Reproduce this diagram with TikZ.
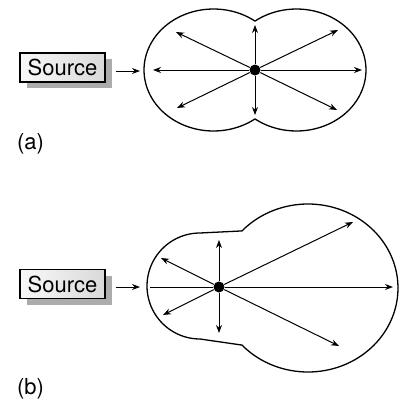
\documentclass[tikz,border=0pt]{standalone}
\usepackage{fontspec}
\setmainfont{TeX Gyre Heros}
\usetikzlibrary{positioning}
\usetikzlibrary{arrows.meta}
\usetikzlibrary{shadows}

\tikzset{
  srcbox/.style={draw, line width=0.9pt, left color=gray!5, right color=gray!30,
    minimum width=42.5pt, minimum height=14.5pt, inner sep=0pt,
    font=\fontsize{11}{13}\selectfont,
    drop shadow={shadow xshift=3.5pt, shadow yshift=-3pt, fill=gray!65, opacity=1}},
  ray/.style={-{Stealth[length=4pt,width=3pt]}, line width=0.5pt},
  lobe/.style={line width=0.65pt},
  dot/.style={circle, fill=black, inner sep=0pt, minimum size=5.5pt},
  tag/.style={font=\fontsize{11}{13}\selectfont}
}

\begin{document}
\begin{tikzpicture}[x=0.5pt, y=-0.5pt]
    \useasboundingbox (0,0) rectangle (406,408);

    % Part (a): symmetric pattern
    \node[srcbox] (srcA) at (62.5,67.5) {Source};
    \coordinate (inA) at (140,71);
    \draw[ray, shorten <=5pt] (srcA.east |- inA) -- (inA);

    \draw[lobe] plot[domain=53.4:306.6, samples=80] ({213.5+69.5*cos(\x)},{70+61*sin(\x)})
        -- plot[domain=233.4:486.6, samples=80] ({296.5+69.5*cos(\x)},{70+61*sin(\x)}) -- cycle;

    \node[dot] (cA) at (255,70) {};
    \coordinate (aW) at (153,70);
    \coordinate (aE) at (362,70);
    \coordinate (aN) at (255,25);
    \coordinate (aS) at (255,115);
    \coordinate (aNW) at (176,32);
    \coordinate (aNE) at (338,30);
    \coordinate (aSW) at (177,108);
    \coordinate (aSE) at (337,110);
    \foreach \e in {aW,aE,aN,aS,aNW,aNE,aSW,aSE}
        \draw[ray] (cA) -- (\e);

    \node[tag] (labA) at (30.5,143.5) {(a)};

    % Part (b): forward lobe
    \node[srcbox] (srcB) at (62.5,284) {Source};
    \coordinate (inB) at (140,287);
    \draw[ray, shorten <=5pt] (srcB.east |- inB) -- (inB);

    \draw[lobe] plot[domain=222.8:497.2, samples=100] ({308+90*cos(\x)},{288+84*sin(\x)})
        -- plot[domain=90:270, samples=60] ({200+53*cos(\x)},{286+53*sin(\x)}) -- cycle;

    \node[dot] (cB) at (219,287) {};
    \coordinate (bW) at (150,287);
    \coordinate (bE) at (393,287);
    \coordinate (bN) at (219,240);
    \coordinate (bS) at (219,333);
    \coordinate (bNW) at (161,258);
    \coordinate (bNE) at (353,222);
    \coordinate (bSW) at (163,315);
    \coordinate (bSE) at (339,346);
    \draw[line width=0.5pt] (cB) -- (bW);
    \foreach \e in {bE,bN,bS,bNW,bNE,bSW,bSE}
        \draw[ray] (cB) -- (\e);

    \node[tag] (labB) at (30.5,389) {(b)};
\end{tikzpicture}
\end{document}
